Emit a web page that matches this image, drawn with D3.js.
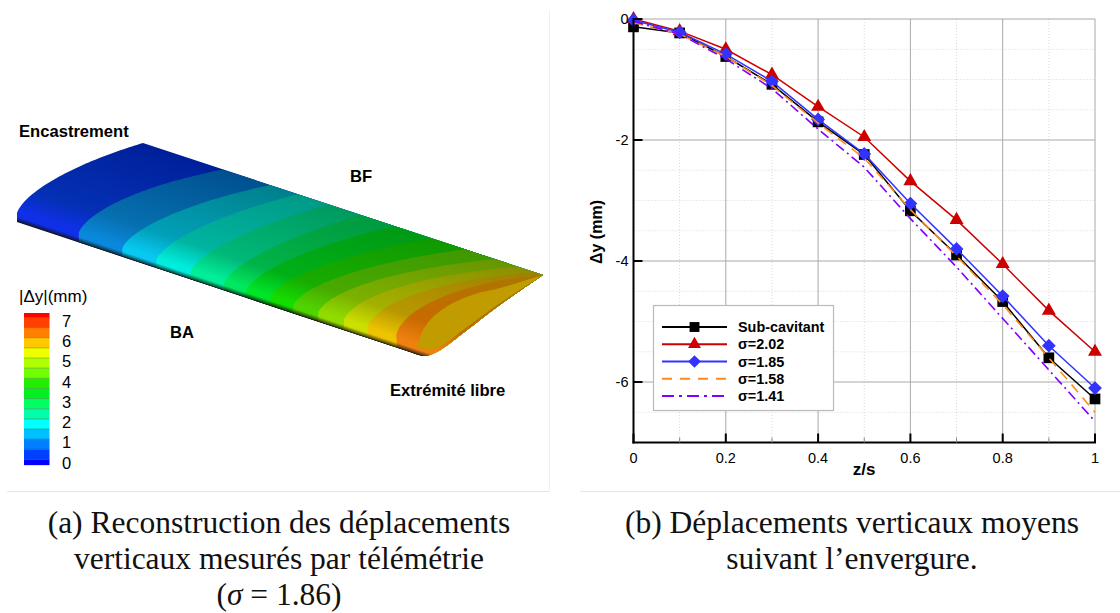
<!DOCTYPE html>
<html><head><meta charset="utf-8">
<script src="https://cdn.jsdelivr.net/npm/d3@7"></script>
<style>
html,body{margin:0;padding:0;background:#fff;overflow:hidden}
svg{display:block}
text{font-family:"Liberation Sans",Arial,sans-serif;fill:#000}
.cap{font-family:"Liberation Serif",serif;font-size:31.5px;text-anchor:middle;fill:#111}
</style></head><body>
<svg id="c" width="1120" height="613"></svg>
<script>
// ---- line chart data ----
const zs = [0,0.1,0.2,0.3,0.4,0.5,0.6,0.7,0.8,0.9,1];
const subCavitant = [-0.13,-0.23,-0.62,-1.08,-1.70,-2.24,-3.17,-3.90,-4.67,-5.60,-6.28];
const sigma202 = [0.0,-0.20,-0.50,-0.92,-1.45,-1.95,-2.68,-3.32,-4.05,-4.82,-5.50];
const sigma185 = [-0.02,-0.22,-0.58,-1.03,-1.66,-2.23,-3.05,-3.80,-4.58,-5.40,-6.10];
const sigma158 = [-0.06,-0.25,-0.62,-1.10,-1.72,-2.30,-3.15,-3.92,-4.72,-5.60,-6.50];
const sigma141 = [-0.04,-0.25,-0.66,-1.15,-1.82,-2.45,-3.30,-4.10,-4.95,-5.80,-6.65];
const seriesNames = ["Sub-cavitant","σ=2.02","σ=1.85","σ=1.58","σ=1.41"];
const xTicks = [0,0.2,0.4,0.6,0.8,1];
const yTicks = [0,-2,-4,-6];
// ---- colour bar data ----
const barTicks = [0,1,2,3,4,5,6,7];
const barEdges = [-0.12,0.16,0.66,1.16,1.66,2.16,2.66,3.16,3.66,4.16,4.66,5.16,5.66,6.16,6.66,7.16,7.38];
const barColors = ["#0000ff","#0040ff","#0080ff","#00c0ff","#00ffff","#00ffa8","#00ff60","#00f020","#20f000","#70ff00","#b0ff00","#f0ff00","#ffc800","#ff8000","#ff4000","#ff0000"];
// ---- wing contour data: span fraction of each contour at the leading and trailing edge, and its bulge ----
const contourLE = [0.153,0.26,0.344,0.428,0.512,0.567,0.626,0.683,0.745,0.809,0.869,0.941];
const contourTE = [0.2,0.318,0.388,0.465,0.545,0.63,0.7225,0.805,0.88,0.9375,0.98,0.9975];
const contourBulge = [19,17,16,15,15,16,17,18,20,22,24,26];
const bandLE = ["#1030e8","#0a88dc","#08c8f0","#00ecdc","#00ee98","#00e860","#00e428","#14dc00","#50d400","#90dc00","#cce000","#ecc400","#f08010"];
const bandMid = ["#0430b4","#0670b0","#00a0b8","#00b4a0","#00b878","#00b448","#00b018","#18ac00","#48aa00","#7cb000","#a4b000","#b89800","#c86a00"];
const bandTE = ["#00209a","#005090","#00808c","#009a88","#009a60","#009a40","#009a14","#109a00","#409800","#689600","#8a9000","#a08000","#a87800"];

const svg = d3.select("#c");
// ---- panel separators ----
svg.append("line").attr("x1",7).attr("x2",550).attr("y1",491.5).attr("y2",491.5).attr("stroke","#e6e6e6");
svg.append("line").attr("x1",580).attr("x2",1120).attr("y1",491.5).attr("y2",491.5).attr("stroke","#e6e6e6");
svg.append("line").attr("x1",549.5).attr("x2",549.5).attr("y1",10).attr("y2",491).attr("stroke","#f0f0f0");

// ---- wing ----
const leX = d3.scaleLinear([0,1],[17,421]), leY = d3.scaleLinear([0,1],[222,356]);
const teX = d3.scaleLinear([0,1],[143,543]), teY = d3.scaleLinear([0,1],[143,275]);
const nrm = [-0.316,-0.949];
const camber = (t,k) => 2.31*Math.pow(t,0.4)*(1-t)*k;
const ts = d3.range(0,1.0001,0.02);
const section = (a,b,k)=>ts.map(t=>{
  const ax=leX(a), ay=leY(a), bx=teX(b), by=teY(b);
  return [ax+t*(bx-ax)+nrm[0]*camber(t,k), ay+t*(by-ay)+nrm[1]*camber(t,k)];
});
const lineGen = d3.line();
const smooth = d3.line().curve(d3.curveCatmullRom);
const tipLower = [[543,275],[497,307],[467,330],[437,352],[424,356],[413,353]];
const defs = svg.append("defs");
defs.append("clipPath").attr("id","wingClip").append("path")
  .attr("d", lineGen(section(0,0,17)) + smooth(tipLower).replace("M","L") + "Z");
const g0 = [leX(0.5),leY(0.5)];
const gLen = 114;
const gEnd = [g0[0]+0.315*gLen, g0[1]-0.949*gLen];
bandLE.forEach((c,i)=>{
  const lg = defs.append("linearGradient").attr("id","band"+i).attr("gradientUnits","userSpaceOnUse")
    .attr("x1",g0[0]).attr("y1",g0[1]).attr("x2",gEnd[0]).attr("y2",gEnd[1]);
  [[0,"#101010"],[0.012,d3.interpolateRgb("#101010",c)(0.35)],[0.045,c],[0.09,c],[0.3,bandMid[i]],[1,bandTE[i]]]
    .forEach(s=>lg.append("stop").attr("offset",s[0]).attr("stop-color",s[1]));
});
const wing = svg.append("g").attr("clip-path","url(#wingClip)");
wing.append("rect").attr("x",0).attr("y",130).attr("width",560).attr("height",240).attr("fill","url(#band0)");
contourLE.forEach((a,i)=>{
  const pts = section(a,contourTE[i],contourBulge[i]).concat([[560,275],[560,380],[leX(a)+72,leY(a)+24]]);
  wing.append("path").attr("d",lineGen(pts)+"Z").attr("fill",`url(#band${i+1})`);
});
// free-end section
const lensUpper = [[417,348],[423,330],[434,316],[453,303],[475,294],[500,288],[543,275]];
const lensLower = [[543,275],[497,305],[463,330],[437,348],[417,348]];
wing.append("path").attr("d",smooth(lensUpper)+smooth(lensLower).replace("M","L")+"Z").attr("fill","#c09c00");

const labels = [["Encastrement",19,137],["BF",350,182],["BA",170,338],["Extrémité libre",390,396]];
svg.selectAll("text.wl").data(labels).join("text").attr("class","wl")
  .attr("x",d=>d[1]).attr("y",d=>d[2]).attr("font-size",16.6).attr("font-weight","bold").text(d=>d[0]);

// ---- colour bar ----
const barY = d3.scaleLinear([0,7],[462.7,320.7]);
svg.selectAll("rect.cb").data(barColors).join("rect").attr("class","cb")
  .attr("x",24).attr("width",25.5)
  .attr("y",(d,i)=>barY(barEdges[i+1])).attr("height",(d,i)=>barY(barEdges[i])-barY(barEdges[i+1]))
  .attr("fill",d=>d);
svg.selectAll("line.cbl").data(barEdges.slice(1,-1)).join("line").attr("class","cbl")
  .attr("x1",24).attr("x2",49.5).attr("y1",d=>barY(d)).attr("y2",d=>barY(d))
  .attr("stroke","#000").attr("stroke-opacity",0.3).attr("stroke-width",0.8);
svg.selectAll("text.cbt").data(barTicks).join("text").attr("class","cbt")
  .attr("x",62).attr("y",d=>barY(d)+6).attr("font-size",16.5).text(d=>d);
svg.append("text").attr("x",19).attr("y",302).attr("font-size",17).text("|Δy|(mm)");

// ---- line chart ----
const x = d3.scaleLinear([0,1],[633.5,1095]);
const y = d3.scaleLinear([-6,0],[382,19]);
const yBottom = y(-7);
const plot = svg.append("g");
const xMinor = d3.range(0,1.001,0.1).filter(v=>Math.abs(Math.round(v*5)/5-v)>1e-6);
const yMinor = d3.range(-6.5,0,0.5).concat([-7]).filter(v=>v%2!==0);
plot.selectAll("line.xm").data(xMinor).join("line").attr("class","xm")
  .attr("x1",x).attr("x2",x).attr("y1",y(0)).attr("y2",yBottom)
  .attr("stroke","#d8d8d8").attr("stroke-dasharray","1,2");
plot.selectAll("line.ym").data(yMinor).join("line").attr("class","ym")
  .attr("x1",x(0)).attr("x2",x(1)).attr("y1",y).attr("y2",y)
  .attr("stroke","#d8d8d8").attr("stroke-dasharray","1,2");
plot.selectAll("line.xg").data(xTicks.slice(1)).join("line").attr("class","xg")
  .attr("x1",x).attr("x2",x).attr("y1",y(0)).attr("y2",yBottom)
  .attr("stroke","#a8a8a8").attr("stroke-width",1);
plot.selectAll("line.yg").data(yTicks).join("line").attr("class","yg")
  .attr("x1",x(0)).attr("x2",x(1)).attr("y1",y).attr("y2",y)
  .attr("stroke","#a8a8a8").attr("stroke-width",1);

const styles = [
 {c:"#000000",w:1.5,d:null,m:d3.symbolSquare,s:115,r:0},
 {c:"#cc0000",w:1.5,d:null,m:d3.symbolTriangle,s:85,r:0},
 {c:"#3333ff",w:1.5,d:null,m:d3.symbolSquare,s:95,r:45},
 {c:"#ff8c1a",w:1.6,d:"10,7",m:null},
 {c:"#8000ff",w:1.6,d:"10,4,2,4",m:null}
];
const vals = [subCavitant,sigma202,sigma185,sigma158,sigma141];
const lg = d3.line().x((d,i)=>x(zs[i])).y(d=>y(d));
vals.forEach((v,k)=>{
  const st = styles[k];
  const p = plot.append("path").attr("d",lg(v)).attr("fill","none").attr("stroke",st.c).attr("stroke-width",st.w);
  if(st.d) p.attr("stroke-dasharray",st.d);
  if(st.m) plot.selectAll("path.m"+k).data(v).join("path").attr("class","m"+k)
    .attr("d",d3.symbol().type(st.m).size(st.s))
    .attr("transform",(d,i)=>`translate(${x(zs[i])},${y(d)}) rotate(${st.r})`).attr("fill",st.c);
});

// axes
const ax = svg.append("g");
ax.append("line").attr("x1",x(0)).attr("x2",x(0)).attr("y1",y(0)-1).attr("y2",yBottom+1).attr("stroke","#000").attr("stroke-width",2);
ax.append("line").attr("x1",x(0)-1).attr("x2",x(1)+1).attr("y1",yBottom).attr("y2",yBottom).attr("stroke","#000").attr("stroke-width",2);
ax.selectAll("line.yt").data(yTicks).join("line").attr("class","yt")
  .attr("x1",x(0)).attr("x2",x(0)+9).attr("y1",y).attr("y2",y).attr("stroke","#000").attr("stroke-width",2);
ax.selectAll("line.xt").data(xTicks).join("line").attr("class","xt")
  .attr("x1",x).attr("x2",x).attr("y1",yBottom).attr("y2",yBottom-9).attr("stroke","#000").attr("stroke-width",2);
ax.selectAll("line.xmt").data(xMinor).join("line").attr("class","xmt")
  .attr("x1",x).attr("x2",x).attr("y1",yBottom).attr("y2",yBottom-5).attr("stroke","#888");
ax.selectAll("text.xl").data(xTicks).join("text").attr("class","xl")
  .attr("x",x).attr("y",yBottom+20).attr("text-anchor","middle").attr("font-size",14.5).text(d=>d);
ax.selectAll("text.yl").data(yTicks).join("text").attr("class","yl")
  .attr("x",x(0)-5).attr("y",d=>y(d)+5).attr("text-anchor","end").attr("font-size",14.5).text(d=>d);
ax.append("text").attr("x",864).attr("y",475).attr("text-anchor","middle").attr("font-size",17).attr("font-weight","bold").text("z/s");
ax.append("text").attr("transform","translate(602,232) rotate(-90)").attr("text-anchor","middle").attr("font-size",16).attr("font-weight","bold").text("Δy (mm)");

// legend
const leg = svg.append("g");
leg.append("rect").attr("x",653.5).attr("y",305.5).attr("width",180).attr("height",105).attr("fill","#fff").attr("stroke","#bbb").attr("stroke-width",1.2);
const legY = d3.scalePoint().domain(seriesNames).range([327,396]);
seriesNames.forEach((n,k)=>{
  const st = styles[k], yy = legY(n);
  const p = leg.append("line").attr("x1",662).attr("x2",727).attr("y1",yy).attr("y2",yy).attr("stroke",st.c).attr("stroke-width",1.8);
  if(st.d) p.attr("stroke-dasharray",k===3?"10,8":"12,5,3,5");
  if(st.m) leg.append("path").attr("d",d3.symbol().type(st.m).size(st.s*0.85)).attr("transform",`translate(694.5,${yy}) rotate(${st.r})`).attr("fill",st.c);
  leg.append("text").attr("x",738).attr("y",yy+5).attr("font-size",14.4).attr("font-weight","bold").text(n);
});

// captions
const caps = [["(a) Reconstruction des déplacements",279,533],["verticaux mesurés par télémétrie",279,569],["(b) Déplacements verticaux moyens",852,533],["suivant l’envergure.",852,569]];
svg.selectAll("text.cap").data(caps).join("text").attr("class","cap")
  .attr("x",d=>d[1]).attr("y",d=>d[2]).text(d=>d[0]);
const c3 = svg.append("text").attr("class","cap").attr("x",279).attr("y",605);
c3.append("tspan").text("(");
c3.append("tspan").attr("font-style","italic").text("σ");
c3.append("tspan").text(" = 1.86)");
</script>
</body></html>
